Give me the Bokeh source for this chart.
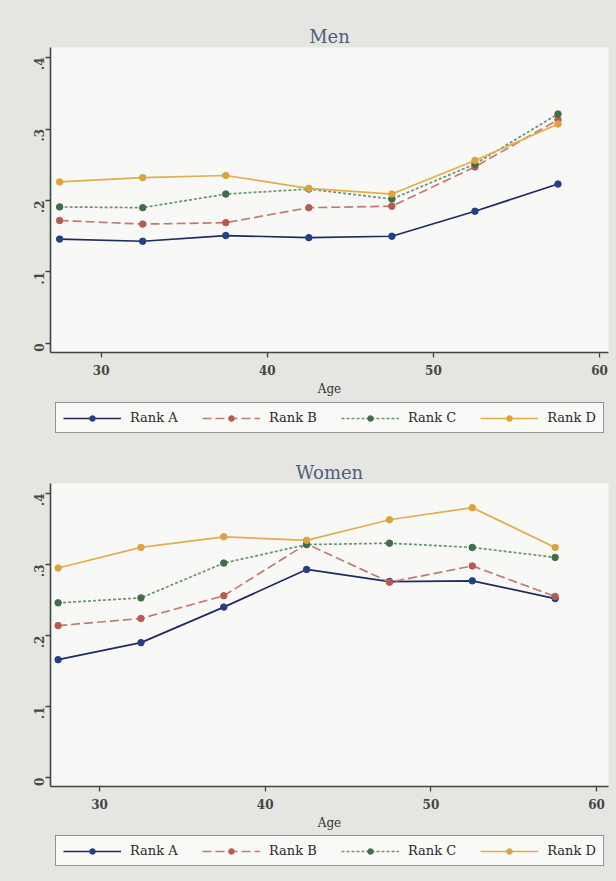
import math
from bokeh.plotting import figure
from bokeh.layouts import column
from bokeh.models import (Range1d, FixedTicker, CustomJSTickFormatter, Legend, LegendItem)
from bokeh.embed import file_html
from bokeh.resources import INLINE

ages = [27.5, 32.5, 37.5, 42.5, 47.5, 52.5, 57.5]
series_names = ["Rank A", "Rank B", "Rank C", "Rank D"]

men_a = [0.146, 0.143, 0.151, 0.148, 0.150, 0.185, 0.223]
men_b = [0.172, 0.167, 0.169, 0.190, 0.192, 0.247, 0.313]
men_c = [0.191, 0.190, 0.209, 0.216, 0.202, 0.251, 0.321]
men_d = [0.226, 0.232, 0.235, 0.217, 0.209, 0.256, 0.307]

women_a = [0.166, 0.190, 0.240, 0.293, 0.276, 0.277, 0.252]
women_b = [0.214, 0.224, 0.256, 0.329, 0.275, 0.298, 0.255]
women_c = [0.246, 0.253, 0.302, 0.328, 0.330, 0.324, 0.310]
women_d = [0.295, 0.324, 0.339, 0.334, 0.363, 0.380, 0.324]

x_ticks = [30, 40, 50, 60]
y_ticks = [0, 0.1, 0.2, 0.3, 0.4]

line_colors = ["#1f2b5e", "#c47b6e", "#6a9470", "#e2ad4c"]
marker_colors = ["#253f86", "#b85a50", "#3f6e47", "#e0a23c"]
dashes = ["solid", "9 4", "3 2", "solid"]

SERIF = "DejaVu Serif"
BG = "#e5e6e2"
PLOT_BG = "#f8f9f6"
AXIS_C = "#3e4642"
W = 616


def add_series(p, data):
    renderers = []
    for i, ys in enumerate(data):
        r1 = p.line(ages, ys, line_color=line_colors[i], line_width=1.7, line_dash=dashes[i])
        r2 = p.scatter(ages, ys, size=6.5, fill_color=marker_colors[i],
                       line_color=marker_colors[i], marker="circle")
        renderers.append([r1, r2])
    return renderers


def make_chart(title, data, height, frame, xr, yr):
    left, top, right, bottom = frame
    p = figure(width=W, height=height, output_backend="svg", toolbar_location=None,
               x_range=Range1d(*xr), y_range=Range1d(*yr),
               min_border_left=left, min_border_right=W - right,
               min_border_top=top, min_border_bottom=height - bottom)
    p.background_fill_color = PLOT_BG
    p.border_fill_color = BG
    p.outline_line_color = None
    p.xgrid.visible = False
    p.ygrid.visible = False

    p.title.text = title
    p.title.align = "center"
    p.title.text_font = SERIF
    p.title.text_font_size = "18px"
    p.title.text_font_style = "normal"
    p.title.text_color = "#4f607f"
    p.title.standoff = 2

    for ax in (p.xaxis[0], p.yaxis[0]):
        ax.axis_line_color = AXIS_C
        ax.axis_line_width = 1.6
        ax.major_tick_line_color = AXIS_C
        ax.major_tick_line_width = 1.3
        ax.major_tick_out = 5
        ax.major_tick_in = 0
        ax.minor_tick_line_color = None
        ax.major_label_text_font = SERIF
        ax.major_label_text_font_size = "12px"
        ax.major_label_text_font_style = "bold"
        ax.major_label_text_color = "#464646"

    p.xaxis.ticker = FixedTicker(ticks=x_ticks)
    p.xaxis.axis_label = "Age"
    p.xaxis.axis_label_text_font = SERIF
    p.xaxis.axis_label_text_font_size = "12px"
    p.xaxis.axis_label_text_font_style = "normal"
    p.xaxis.axis_label_text_color = "#333333"
    p.xaxis.axis_label_standoff = 4
    p.xaxis.major_label_standoff = 7

    p.yaxis.ticker = FixedTicker(ticks=y_ticks)
    p.yaxis.formatter = CustomJSTickFormatter(
        code="return Math.abs(tick) < 1e-9 ? '0' : tick.toFixed(1).replace(/^0/, '');")
    p.yaxis.major_label_orientation = math.pi / 2
    p.yaxis.major_label_standoff = 6

    add_series(p, data)
    return p


def make_legend_fig(data, height, left, right, loc):
    # a strip below the chart: the series are drawn again outside its
    # (unit) ranges, so only the legend entries built from them show
    q = figure(width=W, height=height, output_backend="svg", toolbar_location=None,
               x_axis_type=None, y_axis_type=None,
               x_range=Range1d(0, 1), y_range=Range1d(0, 1),
               min_border_left=left, min_border_right=W - right,
               min_border_top=0, min_border_bottom=0)
    q.background_fill_color = BG
    q.border_fill_color = BG
    q.outline_line_color = None
    q.xgrid.visible = False
    q.ygrid.visible = False
    rends = add_series(q, data)
    items = [LegendItem(label=name, renderers=r) for name, r in zip(series_names, rends)]
    legend = Legend(items=items, orientation="horizontal", location=loc,
                    glyph_width=58, glyph_height=14, label_standoff=9,
                    label_width=48, spacing=24, padding=7, margin=0,
                    label_text_font=SERIF, label_text_font_size="13px",
                    label_text_color="#2a2a2a",
                    border_line_color="#2e2e2e", border_line_width=1.6,
                    background_fill_color="#f9f9f7", background_fill_alpha=1.0)
    q.add_layout(legend, "center")
    return q


men_data = [men_a, men_b, men_c, men_d]
women_data = [women_a, women_b, women_c, women_d]

men = make_chart("Men", men_data, 400, (50, 47, 608, 352), (26.95, 60.54), (-0.0126, 0.414))
men_leg = make_legend_fig(men_data, 40, 50, 608, (5, 7))
women = make_chart("Women", women_data, 395, (50, 43, 608, 346), (27.04, 60.72), (-0.0125, 0.414))
women_leg = make_legend_fig(women_data, 46, 50, 608, (5, 15))

layout = column(men, men_leg, women, women_leg, spacing=0)
layout.styles = {"background-color": BG}

open("out.html", "w").write(file_html(layout, INLINE))
